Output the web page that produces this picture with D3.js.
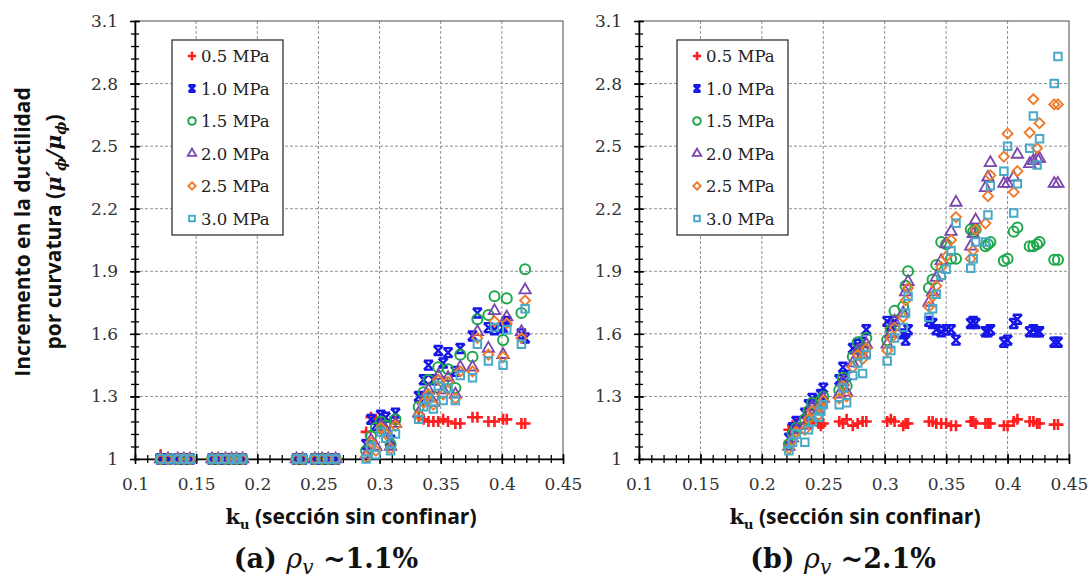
<!DOCTYPE html>
<html>
<head>
<meta charset="utf-8">
<script src="https://cdn.jsdelivr.net/npm/d3@7"></script>
<style>
  body { margin: 0; background: #fff; }
</style>
</head>
<body>
<script>
// Series names and tick labels
const seriesNames = ["0.5 MPa", "1.0 MPa", "1.5 MPa", "2.0 MPa", "2.5 MPa", "3.0 MPa"];
const xTicks = [0.1, 0.15, 0.2, 0.25, 0.3, 0.35, 0.4, 0.45];
const yTicks = [1, 1.3, 1.6, 1.9, 2.2, 2.5, 2.8, 3.1];

// (a) rho_v ~1.1%  -- ku of the unconfined section, shared by all series
const kuA = [0.121, 0.127, 0.135, 0.140, 0.145, 0.163, 0.168, 0.174, 0.179, 0.183, 0.188,
  0.232, 0.237, 0.247, 0.253, 0.258, 0.264,
  0.289, 0.293, 0.297, 0.301, 0.305, 0.309, 0.313,
  0.332, 0.336, 0.340, 0.344, 0.348, 0.352, 0.356, 0.362, 0.366, 0.376, 0.380,
  0.389, 0.394, 0.401, 0.404, 0.416, 0.419];
const a05 = [1.02, 1, 1, 1, 1, 1, 1, 1, 1, 1, 1, 1, 1, 1, 1, 1, 1,
  1.13, 1.20, 1.19, 1.19, 1.18, 1.18, 1.18,
  1.20, 1.19, 1.18, 1.18, 1.18, 1.19, 1.18, 1.17, 1.17, 1.20, 1.20, 1.18, 1.18, 1.19, 1.19, 1.17, 1.17];
const a10 = [1, 1, 1, 1, 1, 1, 1, 1, 1, 1, 1, 1, 1, 1, 1, 1, 1,
  1.07, 1.19, 1.16, 1.21, 1.20, 1.09, 1.22,
  1.30, 1.38, 1.45, 1.38, 1.52, 1.46, 1.51, 1.42, 1.53, 1.59, 1.70, 1.63, 1.62, 1.63, 1.66, 1.60, 1.58];
const a15 = [1, 1, 1, 1, 1, 1, 1, 1, 1, 1, 1, 1, 1, 1, 1, 1, 1,
  1.04, 1.11, 1.15, 1.18, 1.16, 1.07, 1.19,
  1.25, 1.32, 1.38, 1.30, 1.44, 1.37, 1.43, 1.34, 1.50, 1.49, 1.67, 1.69, 1.78, 1.57, 1.77, 1.70, 1.91];
const a20 = [1, 1, 1, 1, 1, 1, 1, 1, 1, 1, 1, 1, 1, 1, 1, 1, 1,
  1.02, 1.09, 1.06, 1.16, 1.14, 1.06, 1.17,
  1.22, 1.28, 1.33, 1.27, 1.40, 1.33, 1.39, 1.31, 1.44, 1.44, 1.61, 1.53, 1.71, 1.50, 1.68, 1.61, 1.81];
const a25 = [1, 1, 1, 1, 1, 1, 1, 1, 1, 1, 1, 1, 1, 1, 1, 1, 1,
  1.01, 1.08, 1.04, 1.15, 1.12, 1.05, 1.16,
  1.21, 1.27, 1.31, 1.26, 1.38, 1.31, 1.37, 1.29, 1.42, 1.42, 1.58, 1.50, 1.66, 1.49, 1.65, 1.58, 1.76];
const a30 = [1, 1, 1, 1, 1, 1, 1, 1, 1, 1, 1, 1, 1, 1, 1, 1, 1,
  1.00, 1.06, 1.02, 1.13, 1.10, 1.04, 1.12,
  1.19, 1.25, 1.29, 1.24, 1.35, 1.28, 1.34, 1.28, 1.40, 1.39, 1.55, 1.47, 1.63, 1.45, 1.62, 1.55, 1.72];

// (b) rho_v ~2.1%
const kuB = [0.222, 0.225, 0.228, 0.235, 0.238, 0.241, 0.246, 0.248, 0.250,
  0.263, 0.266, 0.269, 0.274, 0.278, 0.282, 0.285,
  0.302, 0.305, 0.308, 0.315, 0.317, 0.319,
  0.336, 0.339, 0.342, 0.346, 0.350, 0.354, 0.358,
  0.370, 0.372, 0.374, 0.382, 0.384, 0.386, 0.397, 0.400, 0.405, 0.408,
  0.418, 0.421, 0.424, 0.426, 0.438, 0.441];
const b05 = [1.14, 1.16, 1.17, 1.17, 1.18, 1.17, 1.17, 1.16, 1.17,
  1.18, 1.17, 1.19, 1.16, 1.17, 1.18, 1.18,
  1.18, 1.19, 1.18, 1.16, 1.17, 1.17,
  1.18, 1.18, 1.17, 1.17, 1.17, 1.16, 1.16,
  1.18, 1.18, 1.17, 1.17, 1.17, 1.17, 1.16, 1.16, 1.18, 1.19, 1.18, 1.18, 1.17, 1.17, 1.165, 1.165];
const b10 = [1.10, 1.15, 1.18, 1.22, 1.26, 1.29, 1.28, 1.31, 1.34,
  1.38, 1.44, 1.40, 1.53, 1.55, 1.56, 1.62,
  1.66, 1.64, 1.66, 1.60, 1.57, 1.62,
  1.66, 1.65, 1.62, 1.61, 1.62, 1.62, 1.57,
  1.65, 1.66, 1.65, 1.61, 1.61, 1.62, 1.56, 1.57, 1.65, 1.67, 1.61, 1.62, 1.61, 1.61, 1.56, 1.56];
const b15 = [1.07, 1.12, 1.15, 1.19, 1.23, 1.27, 1.25, 1.28, 1.30,
  1.33, 1.39, 1.35, 1.49, 1.56, 1.53, 1.58,
  1.57, 1.62, 1.71, 1.73, 1.83, 1.90,
  1.82, 1.86, 1.93, 2.04, 2.03, 1.96, 1.96,
  2.10, 2.09, 2.10, 2.02, 2.03, 2.04, 1.95, 1.96, 2.09, 2.11, 2.02, 2.02, 2.03, 2.04, 1.955, 1.955];
const b20 = [1.06, 1.10, 1.14, 1.16, 1.21, 1.25, 1.23, 1.26, 1.29,
  1.31, 1.37, 1.32, 1.46, 1.52, 1.50, 1.55,
  1.55, 1.60, 1.66, 1.70, 1.80, 1.85,
  1.75, 1.80, 1.87, 1.95, 2.03, 2.09, 2.23,
  2.02, 2.08, 2.145, 2.30, 2.35, 2.42, 2.32, 2.32, 2.35, 2.46, 2.415, 2.43, 2.44, 2.44, 2.32, 2.32];
const b25 = [1.05, 1.09, 1.13, 1.14, 1.19, 1.23, 1.21, 1.25, 1.28,
  1.29, 1.35, 1.30, 1.44, 1.50, 1.48, 1.53,
  1.52, 1.58, 1.63, 1.68, 1.76, 1.82,
  1.73, 1.78, 1.83, 1.92, 1.97, 2.05, 2.16,
  1.96, 2.00, 2.10, 2.13, 2.26, 2.36, 2.45, 2.56, 2.28, 2.38, 2.565, 2.725, 2.49, 2.61, 2.70, 2.70];
const b30 = [1.04, 1.08, 1.12, 1.08, 1.14, 1.18, 1.20, 1.23, 1.26,
  1.26, 1.34, 1.27, 1.40, 1.46, 1.41, 1.50,
  1.47, 1.52, 1.58, 1.63, 1.70, 1.78,
  1.68, 1.72, 1.79, 1.88, 1.91, 2.00, 2.13,
  1.915, 1.96, 2.04, 2.04, 2.17, 2.31, 2.38, 2.50, 2.18, 2.32, 2.49, 2.645, 2.41, 2.535, 2.80, 2.93];

// Marker look for each series
const colors = ["#ff1f1f", "#1616e8", "#1fa74c", "#7a45ad", "#ee7b2c", "#49a9c9"];
const shapes = ["plus", "star", "circle", "triangle", "diamond", "square"];

function markerPath(type, k) {
  k = k || 1;
  const f = v => (v * k).toFixed(2);
  if (type === "plus") return `M${f(-5.5)},0H${f(5.5)}M0,${f(-5.5)}V${f(5.5)}`;
  if (type === "star") return `M${f(-4.5)},${f(-4.5)}L${f(4.5)},${f(4.5)}M${f(4.5)},${f(-4.5)}L${f(-4.5)},${f(4.5)}M${f(-4.5)},${f(-4.5)}H${f(4.5)}M${f(-4.5)},${f(4.5)}H${f(4.5)}`;
  if (type === "diamond") return `M0,${f(-5)}L${f(5)},0L0,${f(5)}L${f(-5)},0Z`;
  if (type === "circle") return d3.symbol(d3.symbolCircle, 80 * k * k)();
  if (type === "triangle") return d3.symbol(d3.symbolTriangle, 56 * k * k)();
  return d3.symbol(d3.symbolSquare, 56 * k * k)();
}
const strokeW = [2.6, 2.4, 2.0, 1.8, 1.9, 2.0];

const width = 1091;
const height = 579;
const svg = d3.select("body").append("svg")
  .attr("width", width)
  .attr("height", height);

const y = d3.scaleLinear().domain([1, 3.1]).range([459, 21]);
const yMinor = d3.range(0, 36).map(i => 1 + i * 0.06);
const xMinor = d3.range(0, 36).map(i => 0.1 + i * 0.01);

function drawPanel(x0, x1, ku, sets, legendX, xLabelX, titleX, titleTag, titleVal) {
  const x = d3.scaleLinear().domain([0.1, 0.45]).range([x0, x1]);
  const g = svg.append("g");

  // dashed grid
  g.selectAll(".gx").data(xTicks.slice(1, -1)).enter().append("line")
    .attr("x1", d => x(d)).attr("x2", d => x(d))
    .attr("y1", y(3.1)).attr("y2", y(1))
    .attr("stroke", "#8f8f8f").attr("stroke-width", 1).attr("stroke-dasharray", "3,2");
  g.selectAll(".gy").data(yTicks.slice(1, -1)).enter().append("line")
    .attr("x1", x0).attr("x2", x1)
    .attr("y1", d => y(d)).attr("y2", d => y(d))
    .attr("stroke", "#8f8f8f").attr("stroke-width", 1).attr("stroke-dasharray", "3,2");

  // frame
  g.append("rect")
    .attr("x", x0).attr("y", y(3.1))
    .attr("width", x1 - x0).attr("height", y(1) - y(3.1))
    .attr("fill", "none").attr("stroke", "#4a4a4a").attr("stroke-width", 1);

  // axes
  const ax = g.append("g").attr("transform", `translate(0,${y(1)})`)
    .call(d3.axisBottom(x).tickValues(xTicks).tickFormat(d => String(d))
      .tickSizeInner(5).tickSizeOuter(0).tickPadding(14));
  ax.selectAll(".tick line").attr("y1", -5).attr("stroke-width", 1.5);
  const axm = g.append("g").attr("transform", `translate(0,${y(1)})`)
    .call(d3.axisBottom(x).tickValues(xMinor).tickFormat("").tickSizeInner(4).tickSizeOuter(0));
  axm.selectAll(".tick line").attr("y1", -4).attr("stroke-width", 1.3);
  axm.select(".domain").remove();
  ax.select(".domain").attr("stroke-width", 1.6);

  const ay = g.append("g").attr("transform", `translate(${x0},0)`)
    .call(d3.axisLeft(y).tickValues(yTicks).tickFormat(d => String(d))
      .tickSizeInner(5).tickSizeOuter(0).tickPadding(12));
  ay.selectAll(".tick line").attr("x1", 5).attr("stroke-width", 1.5);
  const aym = g.append("g").attr("transform", `translate(${x0},0)`)
    .call(d3.axisLeft(y).tickValues(yMinor).tickFormat("").tickSizeInner(4).tickSizeOuter(0));
  aym.selectAll(".tick line").attr("x1", 4).attr("stroke-width", 1.3);
  aym.select(".domain").remove();
  ay.select(".domain").attr("stroke-width", 1.6);

  g.selectAll(".tick text")
    .style("font-family", "'DejaVu Serif', serif")
    .style("font-size", "17px")
    .attr("fill", "#333");

  // points, 0.5 MPa first so 3.0 MPa ends on top
  sets.forEach((vals, s) => {
    g.append("g").selectAll("path")
      .data(ku.map((k, i) => ({ k: k, v: vals[i] })))
      .enter().append("path")
      .attr("d", markerPath(shapes[s]))
      .attr("transform", d => `translate(${x(d.k)},${y(d.v)})`)
      .attr("fill", "none")
      .attr("stroke", colors[s])
      .attr("stroke-width", strokeW[s]);
  });

  // legend
  const lg = g.append("g").attr("transform", `translate(${legendX},40)`);
  lg.append("rect").attr("width", 111).attr("height", 195)
    .attr("fill", "#fff").attr("stroke", "#333").attr("stroke-width", 1.3);
  seriesNames.forEach((name, s) => {
    const row = lg.append("g").attr("transform", `translate(0,${16 + s * 32.5})`);
    row.append("path").attr("d", markerPath(shapes[s], 0.75))
      .attr("transform", "translate(20,0)")
      .attr("fill", "none").attr("stroke", colors[s]).attr("stroke-width", strokeW[s]);
    row.append("text").attr("x", 29).attr("y", 6)
      .style("font-family", "'DejaVu Serif', serif").style("font-size", "16.5px")
      .attr("fill", "#222").text(name);
  });

  // x axis title
  const xl = svg.append("text").attr("x", xLabelX).attr("y", 524)
    .attr("text-anchor", "middle").attr("fill", "#111");
  xl.append("tspan").style("font-family", "'DejaVu Serif', serif").style("font-weight", 700)
    .style("font-size", "21px").text("k");
  xl.append("tspan").style("font-family", "'DejaVu Serif', serif").style("font-weight", 700)
    .style("font-size", "13px").attr("dy", 5).text("u");
  xl.append("tspan").style("font-family", "'Open Sans', sans-serif").style("font-weight", 700)
    .style("font-size", "21px").attr("dy", -5).text(" (sección sin confinar)");

  // panel caption
  const t = svg.append("text").attr("x", titleX).attr("y", 568)
    .attr("text-anchor", "middle").attr("fill", "#111")
    .style("font-family", "'DejaVu Serif', serif").style("font-size", "27px");
  t.append("tspan").style("font-weight", 700).text(titleTag + " ");
  t.append("tspan").style("font-style", "italic").text("ρ");
  t.append("tspan").style("font-style", "italic").style("font-size", "20px").attr("dy", 6).text("v");
  t.append("tspan").style("font-weight", 700).attr("dy", -6).text(" ~" + titleVal);
}

drawPanel(135, 563, kuA, [a05, a10, a15, a20, a25, a30], 172, 351, 326, "(a)", "1.1%");
drawPanel(639, 1069, kuB, [b05, b10, b15, b20, b25, b30], 677, 855, 843, "(b)", "2.1%");

// y axis title, two lines
svg.append("text")
  .attr("transform", "translate(30,232) rotate(-90)")
  .attr("text-anchor", "middle").attr("fill", "#111")
  .style("font-family", "'Open Sans', sans-serif").style("font-weight", 700).style("font-size", "21px")
  .text("Incremento en la ductilidad");
const yl = svg.append("text")
  .attr("transform", "translate(61,232) rotate(-90)")
  .attr("text-anchor", "middle").attr("fill", "#111")
  .style("font-family", "'Open Sans', sans-serif").style("font-weight", 700).style("font-size", "21px");
yl.append("tspan").text("por curvatura (");
const mathStyle = s => s.style("font-family", "'DejaVu Serif', serif").style("font-style", "italic");
mathStyle(yl.append("tspan")).text("μ′");
mathStyle(yl.append("tspan")).style("font-size", "14px").attr("dy", 5).text("ϕ");
mathStyle(yl.append("tspan")).attr("dy", -5).text("/μ");
mathStyle(yl.append("tspan")).style("font-size", "14px").attr("dy", 5).text("ϕ");
yl.append("tspan").attr("dy", -5).text(")");
</script>
</body>
</html>
